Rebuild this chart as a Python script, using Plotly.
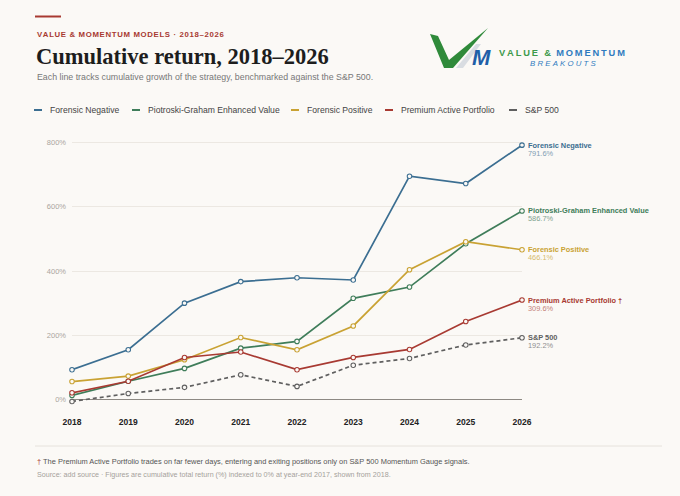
import plotly.graph_objects as go

years = [2018, 2019, 2020, 2021, 2022, 2023, 2024, 2025, 2026]

forensic_negative = [93, 155, 300, 367, 379, 372, 695, 672, 791.6]
piotroski_graham = [13, 57, 97, 160, 181, 315, 350, 485, 586.7]
forensic_positive = [56, 73, 124, 193, 155, 229, 404, 491, 466.1]
premium_active = [21, 57, 131, 148, 93, 131, 156, 243, 309.6]
sp500 = [-6, 19, 38, 77, 41, 107, 128, 170, 192.2]

series_names = ["Forensic Negative", "Piotroski-Graham Enhanced Value",
                "Forensic Positive", "Premium Active Portfolio", "S&P 500"]
end_labels = ["Forensic Negative", "Piotroski-Graham Enhanced Value",
              "Forensic Positive", "Premium Active Portfolio \u2020", "S&P 500"]
y_ticks = [0, 200, 400, 600, 800]

BG = "#fbf9f6"
colors = ["#3b6e91", "#3f7d5a", "#c9a233", "#a83a32", "#5f5f5f"]
value_colors = ["#7f9db3", "#7fa290", "#d6bb6e", "#c47f78", "#8f8f8f"]
dashes = ["solid", "solid", "solid", "solid", "4px,3px"]

W, H = 680, 496
L, R, T, B = 72, 158, 136, 90


def px(x):
    return (x - L) / (W - L - R)


def py(y):
    return (H - B - y) / (H - T - B)


def spaced(s, sep="\u200a"):
    return sep.join(list(s))


all_series = [forensic_negative, piotroski_graham, forensic_positive, premium_active, sp500]

fig = go.Figure()
for name, vals, c, d in zip(series_names, all_series, colors, dashes):
    fig.add_trace(go.Scatter(
        x=years, y=vals, name=name, mode="lines+markers",
        line=dict(color=c, width=1.7, dash=d),
        marker=dict(symbol="circle", size=4.5, color=BG, line=dict(color=c, width=1.1)),
        showlegend=False,
        cliponaxis=False,
    ))

annotations = []
shapes = []

# end-of-line labels
for lab, vals, c, vc in zip(end_labels, all_series, colors, value_colors):
    annotations.append(dict(x=years[-1], y=vals[-1], xref="x", yref="y",
                            text="<b>" + lab + "</b>", showarrow=False,
                            xanchor="left", yanchor="middle", xshift=4,
                            font=dict(size=7.4, color=c, family="Liberation Sans")))
    annotations.append(dict(x=years[-1], y=vals[-1], xref="x", yref="y",
                            text=f"{vals[-1]:.1f}%", showarrow=False,
                            xanchor="left", yanchor="middle", xshift=4, yshift=-8,
                            font=dict(size=7.4, color=vc, family="Liberation Sans")))

# header
shapes.append(dict(type="line", xref="paper", yref="paper",
                   x0=px(35), x1=px(61), y0=py(16.5), y1=py(16.5),
                   line=dict(color="#a83a32", width=2)))
annotations.append(dict(x=px(35), y=py(34), xref="paper", yref="paper",
                        text="<b>" + spaced("VALUE & MOMENTUM MODELS \u00b7 2018\u20132026", "\u200a") + "</b>",
                        showarrow=False, xanchor="left", yanchor="middle",
                        font=dict(size=7.8, color="#a83a32", family="Liberation Sans")))
annotations.append(dict(x=px(34), y=py(56), xref="paper", yref="paper",
                        text="<b>Cumulative return, 2018\u20132026</b>",
                        showarrow=False, xanchor="left", yanchor="middle",
                        font=dict(size=22.5, color="#1d1d1d", family="Liberation Serif")))
annotations.append(dict(x=px(35), y=py(77), xref="paper", yref="paper",
                        text="Each line tracks cumulative growth of the strategy, benchmarked against the S&P 500.",
                        showarrow=False, xanchor="left", yanchor="middle",
                        font=dict(size=8.8, color="#777777", family="Liberation Sans")))

# legend
legend_x = [34, 132, 291, 385, 509]
for name, c, lx in zip(series_names, colors, legend_x):
    shapes.append(dict(type="line", xref="paper", yref="paper",
                       x0=px(lx), x1=px(lx + 8), y0=py(110), y1=py(110),
                       line=dict(color=c, width=2)))
    annotations.append(dict(x=px(lx + 14), y=py(110), xref="paper", yref="paper",
                            text=name, showarrow=False, xanchor="left", yanchor="middle",
                            font=dict(size=8.6, color="#444444", family="Liberation Sans")))

# logo
shapes.append(dict(type="path", xref="paper", yref="paper",
                   path="M {},{} L {},{} L {},{} L {},{} L {},{} L {},{} Z".format(
                       px(430), py(34), px(438), py(36), px(449), py(60),
                       px(488), py(28), px(453), py(68), px(444), py(68)),
                   fillcolor="#2f8a3a", line=dict(width=0)))
shapes.append(dict(type="path", xref="paper", yref="paper",
                   path="M {},{} L {},{} L {},{} L {},{} Z".format(
                       px(456), py(68), px(463), py(68), px(481), py(44), px(476), py(44)),
                   fillcolor="#d9dde2", line=dict(width=0)))
annotations.append(dict(x=px(481), y=py(58), xref="paper", yref="paper",
                        text="<b><i>M</i></b>", showarrow=False,
                        xanchor="center", yanchor="middle",
                        font=dict(size=22, color="#1f5fa8", family="Liberation Sans")))
annotations.append(dict(x=px(497), y=py(53), xref="paper", yref="paper",
                        text="<b><span style='color:#3d9a4a'>" + spaced("VALUE &", "\u2009") +
                             "\u00a0\u00a0</span>" + spaced("MOMENTUM", "\u2009") + "</b>",
                        showarrow=False, xanchor="left", yanchor="middle",
                        font=dict(size=9.3, color="#2f7bbf", family="Liberation Sans")))
annotations.append(dict(x=px(528), y=py(63.5), xref="paper", yref="paper",
                        text="<i>" + spaced("BREAKOUTS", "\u2009\u200a") + "</i>",
                        showarrow=False, xanchor="left", yanchor="middle",
                        font=dict(size=7.8, color="#2f7bbf", family="Liberation Sans")))

# footer
shapes.append(dict(type="line", xref="paper", yref="paper",
                   x0=px(35), x1=px(662), y0=py(446), y1=py(446),
                   line=dict(color="#e6e2dc", width=1)))
annotations.append(dict(x=px(35), y=py(461), xref="paper", yref="paper",
                        text="<span style='color:#a83a32'>\u2020</span> The Premium Active Portfolio trades on far fewer days, "
                             "entering and exiting positions only on S&P 500 Momentum Gauge signals.",
                        showarrow=False, xanchor="left", yanchor="middle",
                        font=dict(size=7.45, color="#555555", family="Liberation Sans")))
annotations.append(dict(x=px(35), y=py(474.5), xref="paper", yref="paper",
                        text="Source: add source \u00b7 Figures are cumulative total return (%) indexed to 0% "
                             "at year-end 2017, shown from 2018.",
                        showarrow=False, xanchor="left", yanchor="middle",
                        font=dict(size=7.15, color="#a5a19b", family="Liberation Sans")))

fig.update_layout(
    width=W, height=H,
    margin=dict(l=L, r=R, t=T, b=B),
    paper_bgcolor=BG, plot_bgcolor=BG,
    showlegend=False,
    annotations=annotations,
    shapes=shapes,
    font=dict(family="Liberation Sans"),
)
fig.update_xaxes(
    range=[2018, 2026], tickvals=years, ticktext=[f"<b>{y}</b>" for y in years],
    showgrid=False, zeroline=False, showline=False,
    tickfont=dict(size=8.5, color="#222222"),
    ticklabelstandoff=9,
)
fig.update_yaxes(
    range=[-20, 820], tickvals=y_ticks, ticktext=[f"{v}%" for v in y_ticks],
    showgrid=True, gridcolor="#ece8e2", gridwidth=1,
    zeroline=True, zerolinecolor="#8d8983", zerolinewidth=1.3,
    tickfont=dict(size=7.5, color="#aaa59e"),
    ticklabelstandoff=5,
)

# drop the page's default body margin so the figure sits at the window's corner
fig.write_html("out.html", config={"displayModeBar": False},
               post_script="document.body.style.margin='0';document.body.style.background='" + BG + "';")
